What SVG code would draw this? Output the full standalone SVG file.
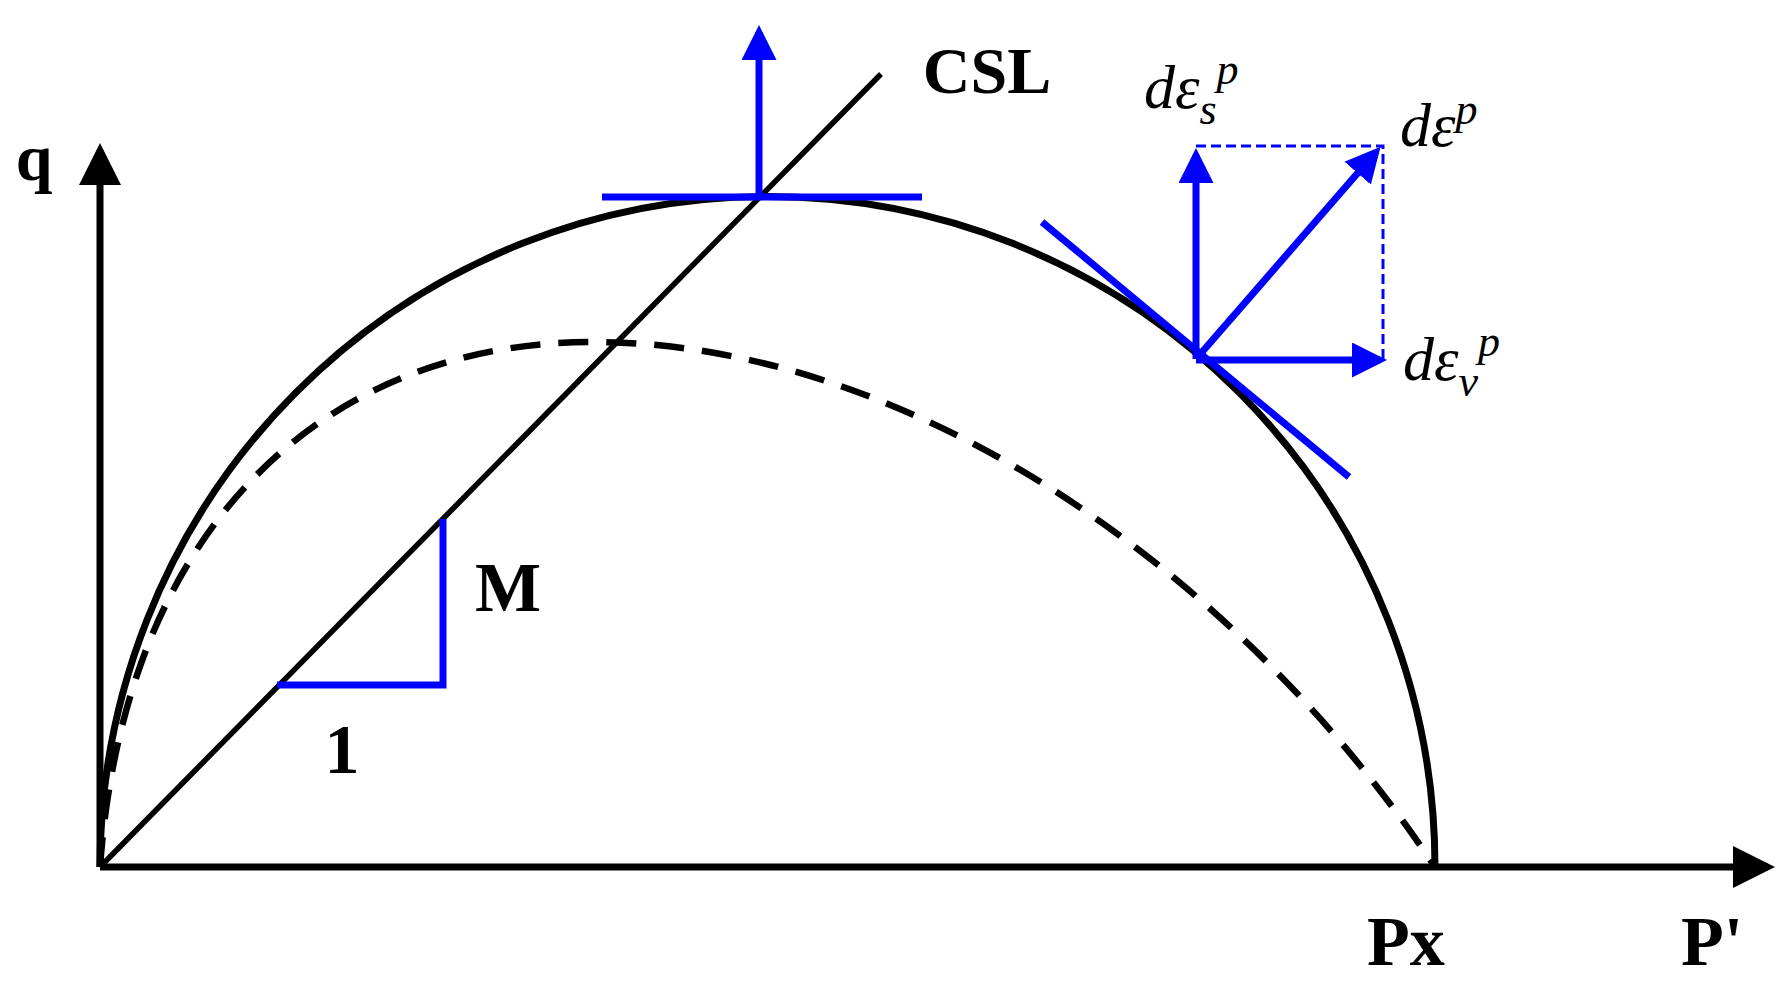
<svg xmlns="http://www.w3.org/2000/svg" width="1780" height="984" viewBox="0 0 1780 984">
<style>
.k{stroke:#000;fill:none}
.b{stroke:#0000ff;fill:none;stroke-width:7}
.t{font-family:"Liberation Serif","Times New Roman",serif;font-weight:bold;fill:#000}
.m{font-family:"Liberation Serif","Times New Roman",serif;font-style:italic;fill:#000;font-size:62px}
</style>
<defs>
<marker id="ak" markerWidth="6" markerHeight="6" refX="5" refY="3" orient="auto" markerUnits="strokeWidth"><path d="M0,0L6,3L0,6z" fill="#000"/></marker>
<marker id="ab" markerWidth="5" markerHeight="5" refX="4" refY="2.5" orient="auto" markerUnits="strokeWidth"><path d="M0,0L5,2.5L0,5z" fill="#0000ff"/></marker>
</defs>
<g id="connectors">
<line class="k" x1="100" y1="867" x2="100" y2="150" stroke-width="7" marker-end="url(#ak)"/>
<line class="k" x1="100" y1="867" x2="1768" y2="867" stroke-width="7" marker-end="url(#ak)"/>
<path id="yield" class="k" stroke-width="7" d="M100,867 A667,670 0 0 1 1435,867"/>
<path id="dashed" class="k" stroke-width="6.5" stroke-dasharray="30,18" d="M100,867 C125,520 330,342 593,342 C900,342 1230,560 1435,867"/>
<line id="csl" class="k" stroke-width="5.5" x1="100" y1="867" x2="881" y2="74"/>
<line class="b" x1="602" y1="197" x2="922" y2="197"/>
<line class="b" x1="759" y1="197" x2="759" y2="32" marker-end="url(#ab)"/>
<polyline class="b" points="277,685 443,685 443,519"/>
<line class="b" x1="1042" y1="222" x2="1349" y2="477"/>
<line class="b" x1="1196" y1="359" x2="1196" y2="155" marker-end="url(#ab)"/>
<line class="b" x1="1196" y1="359" x2="1376" y2="152" marker-end="url(#ab)"/>
<line class="b" x1="1196" y1="360" x2="1380" y2="360" marker-end="url(#ab)"/>
<polyline points="1196,146 1383,146 1383,360" fill="none" stroke="#0000ff" stroke-width="3" stroke-dasharray="10,5"/>
</g>
<g id="labels">
<text class="t" x="34" y="180" font-size="66" text-anchor="middle">q</text>
<text class="t" x="987" y="93" font-size="66" text-anchor="middle">CSL</text>
<text class="t" x="508" y="611" font-size="70" text-anchor="middle">M</text>
<text class="t" x="342" y="773" font-size="70" text-anchor="middle">1</text>
<text class="t" x="1406" y="965" font-size="70" text-anchor="middle">Px</text>
<text class="t" x="1712" y="965" font-size="70" text-anchor="middle">P'</text>
<text class="m" x="1144" y="108">dε<tspan font-size="44" dy="16">s</tspan><tspan font-size="44" dy="-40">p</tspan></text>
<text class="m" x="1400" y="146">dε<tspan font-size="44" dy="-22">p</tspan></text>
<text class="m" x="1403" y="380">dε<tspan font-size="44" dy="16">v</tspan><tspan font-size="44" dy="-40">p</tspan></text>
</g>
</svg>
